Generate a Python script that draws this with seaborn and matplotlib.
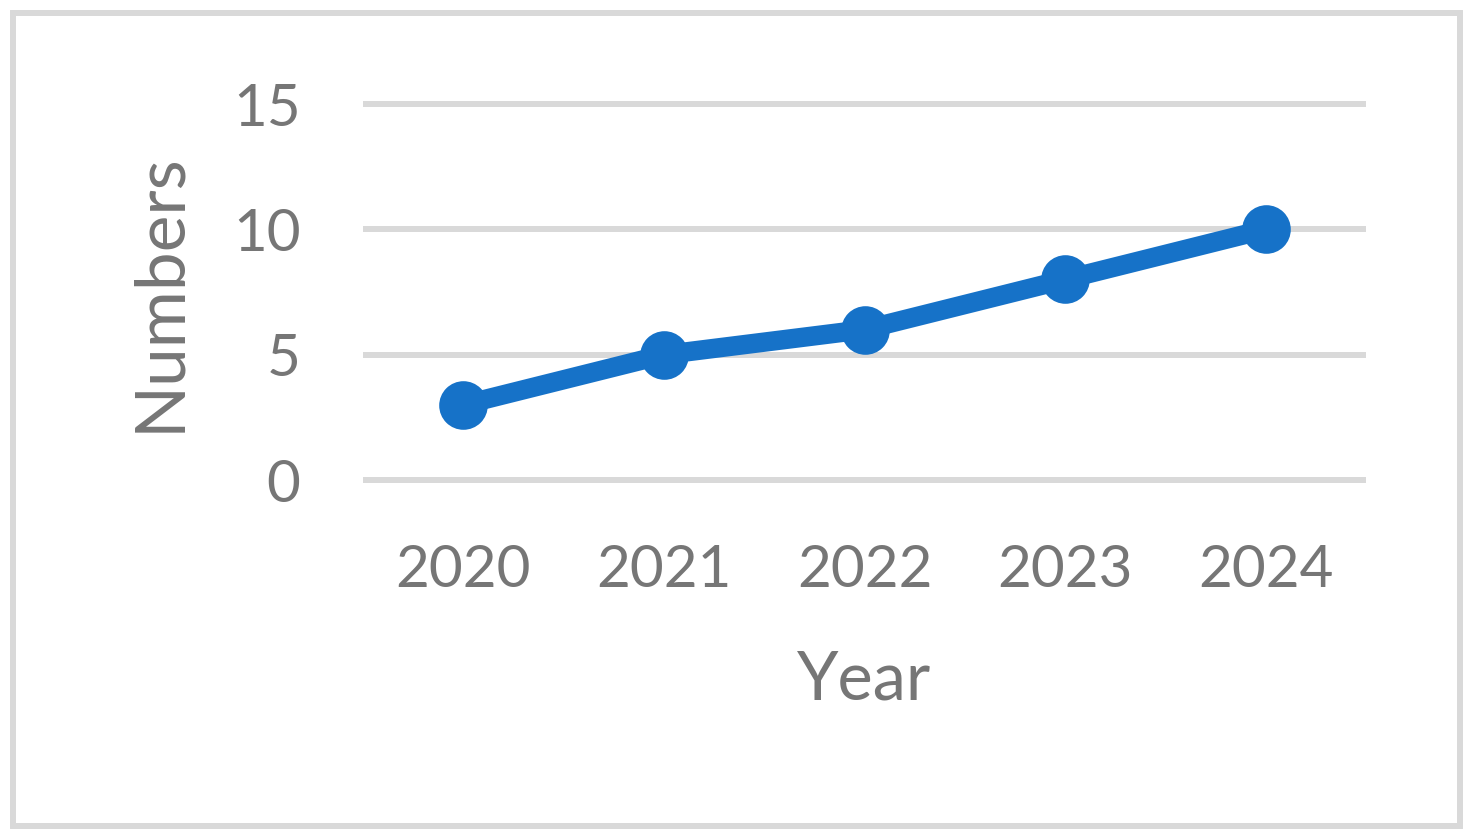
import matplotlib
matplotlib.use("Agg")
import matplotlib.pyplot as plt
import seaborn as sns
import pandas as pd
from matplotlib.patches import Rectangle

# data
years = ["2020", "2021", "2022", "2023", "2024"]
numbers = [3, 5, 6, 8, 10]
y_ticks = [0, 5, 10, 15]

df = pd.DataFrame({"Year": years, "Numbers": numbers})

sns.set_style("white")
plt.rcParams["font.family"] = ["Lato", "DejaVu Sans"]

grey = "#767676"
blue = "#1672C8"

fig = plt.figure(figsize=(14.73, 8.39), dpi=100)
ax = fig.add_axes([363 / 1473, 1 - 480 / 839, 1003 / 1473, 376 / 839])

sns.lineplot(data=df, x="Year", y="Numbers", ax=ax, color=blue,
             linewidth=14, marker="o", markersize=35,
             markeredgewidth=0, sort=False, zorder=3)

ax.set_xlim(-0.5, len(years) - 0.5)
ax.set_ylim(0, 15)
ax.set_yticks(y_ticks)
for y in y_ticks:
    ax.axhline(y, color="#d9d9d9", linewidth=4.3, zorder=1,
               clip_on=False, solid_capstyle="butt")

for s in ax.spines.values():
    s.set_visible(False)
ax.tick_params(axis="both", length=0, labelsize=42, labelcolor=grey)
ax.tick_params(axis="y", pad=45)
ax.tick_params(axis="x", pad=46)
ax.set_xlabel("Year", fontsize=48, color=grey, labelpad=38)
ax.set_ylabel("Numbers", fontsize=50, color=grey, labelpad=30)

# outer chart border
fig.patches.append(Rectangle((13 / 1473, 1 - 826 / 839), 1447 / 1473, 813 / 839,
                             transform=fig.transFigure, fill=False,
                             edgecolor="#d9d9d9", linewidth=4.3))

fig.savefig("out.png", dpi=100)
